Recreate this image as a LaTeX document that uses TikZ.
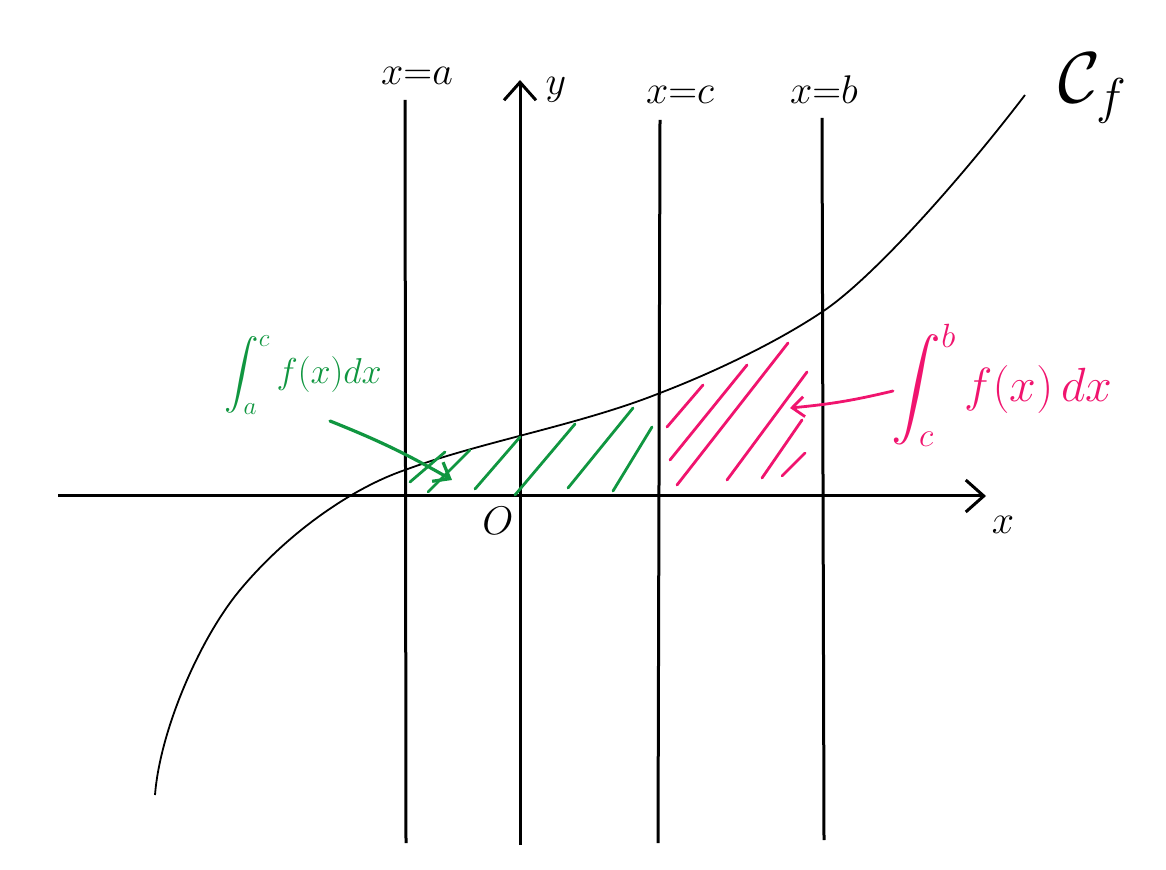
\RequirePackage{fix-cm}
\documentclass[tikz,border=0pt]{standalone}
\usepackage{amsmath}
\usepackage{exscale}
\usetikzlibrary{arrows.meta}
\definecolor{hgreen}{RGB}{16,150,64}
\definecolor{hpink}{RGB}{240,20,110}
\begin{document}
\begin{tikzpicture}[x=0.5pt,y=-0.5pt,
  axis/.style={line width=1.5pt,black,-{Straight Barb[length=9pt,width=16pt,line width=1.5pt]}},
  vline/.style={line width=1.5pt,black},
  curve/.style={line width=0.9pt,black},
  ghatch/.style={line width=1.4pt,hgreen,line cap=round},
  phatch/.style={line width=1.4pt,hpink,line cap=round},
  lbl/.style={inner sep=0pt,font=\fontsize{20}{22}\selectfont}]
\useasboundingbox (0,0) rectangle (1166,870);
% axes
\coordinate (xs) at (58,496); \coordinate (xe) at (986,496);
\coordinate (ys) at (520,845); \coordinate (ye) at (520,80);
\draw[axis] (xs) -- (xe);
\draw[axis] (ys) -- (ye);
% vertical lines
\coordinate (a1) at (405,100); \coordinate (a2) at (406,843);
\coordinate (c1) at (660,120); \coordinate (c2) at (658,843);
\coordinate (b1) at (822,118); \coordinate (b2) at (824,840);
\draw[vline] (a1) -- (a2);
\draw[vline] (c1) -- (c2);
\draw[vline] (b1) -- (b2);
% labels
\node[lbl] (la) at (417,76) {$x{=}a$};
\node[lbl] (ly) at (556,90) {$y$};
\node[lbl] (lc) at (680,95) {$x{=}c$};
\node[lbl] (lb) at (824,90) {$x{=}b$};
\node[lbl] (lx) at (1003,525) {$x$};
\node[lbl] (lo) at (498,521) {$O$};
\node[inner sep=0pt,font=\fontsize{36}{40}\selectfont] (lcf) at (1093,88) {$\mathcal{C}_f$};
% curve
\draw[curve] (155,795) .. controls (160,730) and (200,638) .. (240,590)
  .. controls (290,530) and (355,487) .. (405,470)
  .. controls (480,442) and (580,425) .. (660,393)
  .. controls (720,370) and (780,340) .. (822,312)
  .. controls (872,279) and (960,180) .. (1025,95);
% green hatching
\draw[ghatch] (410,482) -- (445,452);
\draw[ghatch] (428,492) -- (470,450);
\draw[ghatch] (475,489) -- (520,437);
\draw[ghatch] (515,495) -- (575,424);
\draw[ghatch] (568,488) -- (633,408);
\draw[ghatch] (613,491) -- (652,427);
% pink hatching
\draw[phatch] (667,427) -- (703,385);
\draw[phatch] (670,460) -- (747,365);
\draw[phatch] (677,485) -- (788,343);
\draw[phatch] (727,480) -- (807,372);
\draw[phatch] (762,478) -- (802,420);
\draw[phatch] (782,476) -- (805,453);
% integral labels
\node[inner sep=0pt,text=hgreen,font=\fontsize{18}{20}\selectfont] (gint) at (303,375) {$\displaystyle\int_a^c f(x)dx$};
\node[inner sep=0pt,text=hpink,font=\fontsize{24}{26}\selectfont] (pint) at (1002,385) {$\displaystyle\int_c^b f(x)\,dx$};
% arrows
\coordinate (gs) at (330,421); \coordinate (ge) at (452,480);
\draw[line width=1.6pt,hgreen,line cap=round,-{Straight Barb[length=7pt,width=11pt,line width=1.6pt]}] (gs) to[bend left=4] (ge);
\coordinate (ps) at (893,391); \coordinate (pe) at (790,408);
\draw[line width=1.4pt,hpink,line cap=round,-{Straight Barb[length=6pt,width=10pt,line width=1.4pt]}] (ps) to[bend left=4] (pe);
\end{tikzpicture}
\end{document}
